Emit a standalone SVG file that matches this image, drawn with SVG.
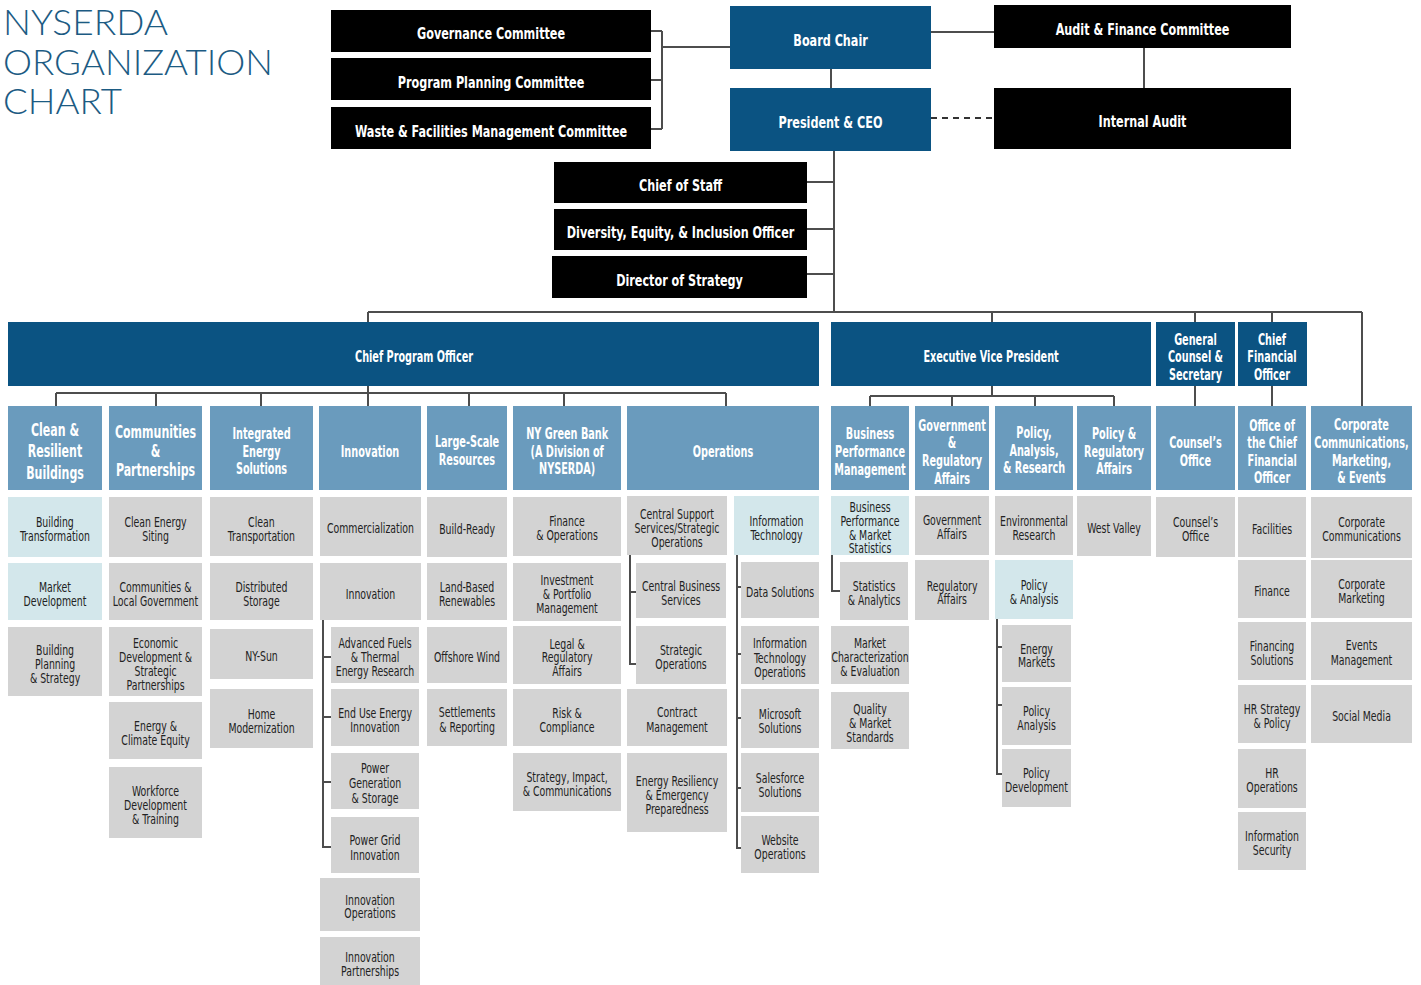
<svg xmlns="http://www.w3.org/2000/svg" width="1421" height="985" viewBox="0 0 1421 985">
<style>
.blk{fill:#000}
.dk{fill:#0b5382}
.md{fill:#6a9bbd}
.gy{fill:#d3d3d3}
.lb{fill:#d3e7eb}
.c{stroke:#4d4d4d;stroke-width:2;fill:none}
.dash{stroke:#333;stroke-width:2;fill:none;stroke-dasharray:6 5}
text{font-family:"Liberation Sans Narrow","DejaVu Sans Condensed","Liberation Sans",sans-serif;text-anchor:middle;transform-box:fill-box;transform-origin:center}
.tb{fill:#fff;font-weight:bold;font-size:16px;transform:scaleX(.78)}
.t2{fill:#fff;font-weight:bold;font-size:15px;transform:scaleX(.72)}
.t2l{fill:#fff;font-weight:bold;font-size:17px;transform:scaleX(.72)}
.t3{fill:#222;font-size:13.5px;transform:scaleX(.77)}
.title{font-family:Lato,"Liberation Sans",sans-serif;font-weight:300;font-size:35px;fill:#1c5b83;text-anchor:start;transform:none}
</style>
<g id="title">
<text class="title"><tspan x="3" y="35" textLength="165" lengthAdjust="spacingAndGlyphs">NYSERDA</tspan><tspan x="3" y="75" textLength="270" lengthAdjust="spacingAndGlyphs">ORGANIZATION</tspan><tspan x="3" y="114" textLength="119" lengthAdjust="spacingAndGlyphs">CHART</tspan></text>
</g>
<g id="connectors">
<path class="c" d="M651,31H662M651,80H662M651,129H662M662,31V129M662,47H730"/>
<path class="c" d="M831,69V88M931,32H994M1144,48V88"/>
<path class="dash" d="M931,118H994"/>
<path class="c" d="M834,151V312M807,182H834M807,229H834M807,274H834"/>
<path class="c" d="M368,312H1362M368,312V322M992,312V322M1195,312V322M1272,312V322M1362,312V406"/>
<path class="c" d="M368,386V393M56,393H726M56,393V406M156,393V406M261,393V406M368,393V406M469,393V406M564,393V406M726,393V406"/>
<path class="c" d="M992,386V396M870,396H1114M870,396V406M952,396V406M1035,396V406M1114,396V406M1195,386V406M1272,386V406"/>
<path class="c" d="M323,620V847H331M323,657H331M323,717H331M323,782H331"/>
<path class="c" d="M630,555V664H636M630,592H636"/>
<path class="c" d="M737,555V848H741M737,587H741M737,654H741M737,718H741M737,788H741"/>
<path class="c" d="M832,555V591H840"/>
<path class="c" d="M997,619V774H1002M997,647H1002M997,705H1002"/>
</g>
<g id="n-gov"><rect class="blk" x="331" y="10" width="320" height="42"/><text class="tb" x="491" y="39">Governance Committee</text></g>
<g id="n-ppc"><rect class="blk" x="331" y="58" width="320" height="42"/><text class="tb" x="491" y="88">Program Planning Committee</text></g>
<g id="n-wfm"><rect class="blk" x="331" y="107" width="320" height="42"/><text class="tb" x="491" y="137">Waste &amp; Facilities Management Committee</text></g>
<g id="n-board"><rect class="dk" x="730" y="6" width="201" height="63"/><text class="tb" x="830.5" y="46">Board Chair</text></g>
<g id="n-ceo"><rect class="dk" x="730" y="88" width="201" height="63"/><text class="tb" x="830.5" y="128">President &amp; CEO</text></g>
<g id="n-afc"><rect class="blk" x="994" y="5" width="297" height="43"/><text class="tb" x="1142.5" y="35">Audit &amp; Finance Committee</text></g>
<g id="n-ia"><rect class="blk" x="994" y="88" width="297" height="61"/><text class="tb" x="1142.5" y="127">Internal Audit</text></g>
<g id="n-cos"><rect class="blk" x="554" y="162" width="253" height="41"/><text class="tb" x="680.5" y="191">Chief of Staff</text></g>
<g id="n-dei"><rect class="blk" x="554" y="209" width="253" height="41"/><text class="tb" x="680.5" y="238">Diversity, Equity, &amp; Inclusion Officer</text></g>
<g id="n-dos"><rect class="blk" x="552" y="256" width="255" height="42"/><text class="tb" x="679.5" y="286">Director of Strategy</text></g>
<g id="n-cpo"><rect class="dk" x="8" y="322" width="811" height="64"/><text class="t2" x="414" y="362">Chief Program Officer</text></g>
<g id="n-evp"><rect class="dk" x="831" y="322" width="320" height="64"/><text class="t2" x="991" y="362">Executive Vice President</text></g>
<g id="n-gcs"><rect class="dk" x="1156" y="322" width="79" height="64"/><text class="t2"><tspan x="1195.5" y="345">General</tspan><tspan x="1195.5" y="362">Counsel &amp;</tspan><tspan x="1195.5" y="380">Secretary</tspan></text></g>
<g id="n-cfo"><rect class="dk" x="1238" y="322" width="69" height="64"/><text class="t2"><tspan x="1272" y="345">Chief</tspan><tspan x="1272" y="362">Financial</tspan><tspan x="1272" y="380">Officer</tspan></text></g>
<g id="n-crb"><rect class="md" x="8" y="406" width="94" height="84"/><text class="t2l"><tspan x="55" y="436">Clean &amp;</tspan><tspan x="55" y="457">Resilient</tspan><tspan x="55" y="479">Buildings</tspan></text></g>
<g id="n-cp"><rect class="md" x="109" y="406" width="93" height="84"/><text class="t2l"><tspan x="155.5" y="438">Communities</tspan><tspan x="155.5" y="457">&amp;</tspan><tspan x="155.5" y="476">Partnerships</tspan></text></g>
<g id="n-ies"><rect class="md" x="210" y="406" width="103" height="84"/><text class="t2"><tspan x="261.5" y="439">Integrated</tspan><tspan x="261.5" y="457">Energy</tspan><tspan x="261.5" y="474">Solutions</tspan></text></g>
<g id="n-inn"><rect class="md" x="319" y="406" width="102" height="84"/><text class="t2" x="370" y="457">Innovation</text></g>
<g id="n-lsr"><rect class="md" x="427" y="406" width="80" height="84"/><text class="t2"><tspan x="467" y="447">Large-Scale</tspan><tspan x="467" y="465">Resources</tspan></text></g>
<g id="n-nygb"><rect class="md" x="513" y="406" width="108" height="84"/><text class="t2"><tspan x="567" y="439">NY Green Bank</tspan><tspan x="567" y="457">(A Division of</tspan><tspan x="567" y="474">NYSERDA)</tspan></text></g>
<g id="n-ops"><rect class="md" x="627" y="406" width="192" height="84"/><text class="t2" x="723" y="457">Operations</text></g>
<g id="n-bpm"><rect class="md" x="831" y="406" width="78" height="84"/><text class="t2"><tspan x="870" y="439">Business</tspan><tspan x="870" y="457">Performance</tspan><tspan x="870" y="475">Management</tspan></text></g>
<g id="n-gra"><rect class="md" x="915" y="406" width="74" height="84"/><text class="t2"><tspan x="952" y="431">Government</tspan><tspan x="952" y="448">&amp;</tspan><tspan x="952" y="466">Regulatory</tspan><tspan x="952" y="484">Affairs</tspan></text></g>
<g id="n-par"><rect class="md" x="995" y="406" width="78" height="84"/><text class="t2"><tspan x="1034" y="438">Policy,</tspan><tspan x="1034" y="456">Analysis,</tspan><tspan x="1034" y="473">&amp; Research</tspan></text></g>
<g id="n-pra"><rect class="md" x="1077" y="406" width="74" height="84"/><text class="t2"><tspan x="1114" y="439">Policy &amp;</tspan><tspan x="1114" y="457">Regulatory</tspan><tspan x="1114" y="474">Affairs</tspan></text></g>
<g id="n-cof"><rect class="md" x="1156" y="406" width="79" height="84"/><text class="t2"><tspan x="1195.5" y="448">Counsel’s</tspan><tspan x="1195.5" y="466">Office</tspan></text></g>
<g id="n-ocfo"><rect class="md" x="1238" y="406" width="68" height="84"/><text class="t2"><tspan x="1272" y="431">Office of</tspan><tspan x="1272" y="448">the Chief</tspan><tspan x="1272" y="466">Financial</tspan><tspan x="1272" y="483">Officer</tspan></text></g>
<g id="n-ccme"><rect class="md" x="1311" y="406" width="101" height="84"/><text class="t2"><tspan x="1361.5" y="430">Corporate</tspan><tspan x="1361.5" y="448">Communications,</tspan><tspan x="1361.5" y="466">Marketing,</tspan><tspan x="1361.5" y="483">&amp; Events</tspan></text></g>
<g id="n-bt"><rect class="lb" x="8" y="497" width="94" height="60"/><text class="t3"><tspan x="55" y="527">Building</tspan><tspan x="55" y="541">Transformation</tspan></text></g>
<g id="n-mdev"><rect class="lb" x="8" y="563" width="94" height="57"/><text class="t3"><tspan x="55" y="592">Market</tspan><tspan x="55" y="606">Development</tspan></text></g>
<g id="n-bps"><rect class="gy" x="8" y="627" width="94" height="69"/><text class="t3"><tspan x="55" y="655">Building</tspan><tspan x="55" y="669">Planning</tspan><tspan x="55" y="683">&amp; Strategy</tspan></text></g>
<g id="n-ces"><rect class="gy" x="109" y="497" width="93" height="60"/><text class="t3"><tspan x="155.5" y="527">Clean Energy</tspan><tspan x="155.5" y="541">Siting</tspan></text></g>
<g id="n-clg"><rect class="gy" x="109" y="563" width="93" height="57"/><text class="t3"><tspan x="155.5" y="592">Communities &amp;</tspan><tspan x="155.5" y="606">Local Government</tspan></text></g>
<g id="n-edsp"><rect class="gy" x="109" y="627" width="93" height="69"/><text class="t3"><tspan x="155.5" y="648">Economic</tspan><tspan x="155.5" y="662">Development &amp;</tspan><tspan x="155.5" y="676">Strategic</tspan><tspan x="155.5" y="690">Partnerships</tspan></text></g>
<g id="n-ece"><rect class="gy" x="109" y="702" width="93" height="57"/><text class="t3"><tspan x="155.5" y="731">Energy &amp;</tspan><tspan x="155.5" y="745">Climate Equity</tspan></text></g>
<g id="n-wdt"><rect class="gy" x="109" y="767" width="93" height="71"/><text class="t3"><tspan x="155.5" y="796">Workforce</tspan><tspan x="155.5" y="810">Development</tspan><tspan x="155.5" y="824">&amp; Training</tspan></text></g>
<g id="n-ct"><rect class="gy" x="210" y="497" width="103" height="59"/><text class="t3"><tspan x="261.5" y="527">Clean</tspan><tspan x="261.5" y="541">Transportation</tspan></text></g>
<g id="n-dst"><rect class="gy" x="210" y="563" width="103" height="57"/><text class="t3"><tspan x="261.5" y="592">Distributed</tspan><tspan x="261.5" y="606">Storage</tspan></text></g>
<g id="n-nysun"><rect class="gy" x="210" y="629" width="103" height="50"/><text class="t3" x="261.5" y="661">NY-Sun</text></g>
<g id="n-hm"><rect class="gy" x="210" y="689" width="103" height="59"/><text class="t3"><tspan x="261.5" y="719">Home</tspan><tspan x="261.5" y="733">Modernization</tspan></text></g>
<g id="n-comm"><rect class="gy" x="320" y="497" width="101" height="59"/><text class="t3" x="370.5" y="533">Commercialization</text></g>
<g id="n-innov"><rect class="gy" x="320" y="563" width="101" height="57"/><text class="t3" x="370.5" y="599">Innovation</text></g>
<g id="n-aft"><rect class="gy" x="331" y="627" width="88" height="56"/><text class="t3"><tspan x="375" y="648">Advanced Fuels</tspan><tspan x="375" y="662">&amp; Thermal</tspan><tspan x="375" y="676">Energy Research</tspan></text></g>
<g id="n-euei"><rect class="gy" x="331" y="689" width="88" height="57"/><text class="t3"><tspan x="375" y="718">End Use Energy</tspan><tspan x="375" y="732">Innovation</tspan></text></g>
<g id="n-pgs"><rect class="gy" x="331" y="753" width="88" height="56"/><text class="t3"><tspan x="375" y="773">Power</tspan><tspan x="375" y="788">Generation</tspan><tspan x="375" y="803">&amp; Storage</tspan></text></g>
<g id="n-pgi"><rect class="gy" x="331" y="817" width="88" height="56"/><text class="t3"><tspan x="375" y="845">Power Grid</tspan><tspan x="375" y="860">Innovation</tspan></text></g>
<g id="n-io"><rect class="gy" x="320" y="878" width="100" height="53"/><text class="t3"><tspan x="370" y="905">Innovation</tspan><tspan x="370" y="918">Operations</tspan></text></g>
<g id="n-ip"><rect class="gy" x="320" y="937" width="100" height="48"/><text class="t3"><tspan x="370" y="962">Innovation</tspan><tspan x="370" y="976">Partnerships</tspan></text></g>
<g id="n-br"><rect class="gy" x="427" y="497" width="80" height="60"/><text class="t3" x="467" y="534">Build-Ready</text></g>
<g id="n-lbr"><rect class="gy" x="427" y="563" width="80" height="57"/><text class="t3"><tspan x="467" y="592">Land-Based</tspan><tspan x="467" y="606">Renewables</tspan></text></g>
<g id="n-ow"><rect class="gy" x="427" y="627" width="80" height="56"/><text class="t3" x="467" y="662">Offshore Wind</text></g>
<g id="n-sr"><rect class="gy" x="427" y="689" width="80" height="57"/><text class="t3"><tspan x="467" y="717">Settlements</tspan><tspan x="467" y="732">&amp; Reporting</tspan></text></g>
<g id="n-fo"><rect class="gy" x="513" y="497" width="108" height="59"/><text class="t3"><tspan x="567" y="526">Finance</tspan><tspan x="567" y="540">&amp; Operations</tspan></text></g>
<g id="n-ipm"><rect class="gy" x="513" y="563" width="108" height="58"/><text class="t3"><tspan x="567" y="585">Investment</tspan><tspan x="567" y="599">&amp; Portfolio</tspan><tspan x="567" y="613">Management</tspan></text></g>
<g id="n-lra"><rect class="gy" x="513" y="626" width="108" height="58"/><text class="t3"><tspan x="567" y="649">Legal &amp;</tspan><tspan x="567" y="662">Regulatory</tspan><tspan x="567" y="676">Affairs</tspan></text></g>
<g id="n-rc"><rect class="gy" x="513" y="689" width="108" height="57"/><text class="t3"><tspan x="567" y="718">Risk &amp;</tspan><tspan x="567" y="732">Compliance</tspan></text></g>
<g id="n-sic"><rect class="gy" x="513" y="753" width="108" height="58"/><text class="t3"><tspan x="567" y="782">Strategy, Impact,</tspan><tspan x="567" y="796">&amp; Communications</tspan></text></g>
<g id="n-css"><rect class="gy" x="627" y="496" width="100" height="59"/><text class="t3"><tspan x="677" y="519">Central Support</tspan><tspan x="677" y="533">Services/Strategic</tspan><tspan x="677" y="547">Operations</tspan></text></g>
<g id="n-cbs"><rect class="gy" x="636" y="563" width="90" height="55"/><text class="t3"><tspan x="681" y="591">Central Business</tspan><tspan x="681" y="605">Services</tspan></text></g>
<g id="n-so"><rect class="gy" x="636" y="626" width="90" height="58"/><text class="t3"><tspan x="681" y="655">Strategic</tspan><tspan x="681" y="669">Operations</tspan></text></g>
<g id="n-cm"><rect class="gy" x="627" y="689" width="100" height="57"/><text class="t3"><tspan x="677" y="717">Contract</tspan><tspan x="677" y="732">Management</tspan></text></g>
<g id="n-erep"><rect class="gy" x="627" y="753" width="100" height="79"/><text class="t3"><tspan x="677" y="786">Energy Resiliency</tspan><tspan x="677" y="800">&amp; Emergency</tspan><tspan x="677" y="814">Preparedness</tspan></text></g>
<g id="n-it"><rect class="lb" x="734" y="496" width="85" height="59"/><text class="t3"><tspan x="776.5" y="526">Information</tspan><tspan x="776.5" y="540">Technology</tspan></text></g>
<g id="n-dsol"><rect class="gy" x="741" y="562" width="78" height="56"/><text class="t3" x="780" y="597">Data Solutions</text></g>
<g id="n-ito"><rect class="gy" x="741" y="626" width="78" height="58"/><text class="t3"><tspan x="780" y="648">Information</tspan><tspan x="780" y="663">Technology</tspan><tspan x="780" y="677">Operations</tspan></text></g>
<g id="n-ms"><rect class="gy" x="741" y="689" width="78" height="59"/><text class="t3"><tspan x="780" y="719">Microsoft</tspan><tspan x="780" y="733">Solutions</tspan></text></g>
<g id="n-ss"><rect class="gy" x="741" y="753" width="78" height="59"/><text class="t3"><tspan x="780" y="783">Salesforce</tspan><tspan x="780" y="797">Solutions</tspan></text></g>
<g id="n-wo"><rect class="gy" x="741" y="816" width="78" height="57"/><text class="t3"><tspan x="780" y="845">Website</tspan><tspan x="780" y="859">Operations</tspan></text></g>
<g id="n-bpms"><rect class="lb" x="831" y="496" width="78" height="59"/><text class="t3"><tspan x="870" y="512">Business</tspan><tspan x="870" y="526">Performance</tspan><tspan x="870" y="540">&amp; Market</tspan><tspan x="870" y="553">Statistics</tspan></text></g>
<g id="n-sa"><rect class="gy" x="840" y="562" width="68" height="58"/><text class="t3"><tspan x="874" y="591">Statistics</tspan><tspan x="874" y="605">&amp; Analytics</tspan></text></g>
<g id="n-mce"><rect class="gy" x="831" y="626" width="78" height="58"/><text class="t3"><tspan x="870" y="648">Market</tspan><tspan x="870" y="662">Characterization</tspan><tspan x="870" y="676">&amp; Evaluation</tspan></text></g>
<g id="n-qms"><rect class="gy" x="831" y="692" width="78" height="57"/><text class="t3"><tspan x="870" y="714">Quality</tspan><tspan x="870" y="728">&amp; Market</tspan><tspan x="870" y="742">Standards</tspan></text></g>
<g id="n-ga"><rect class="gy" x="915" y="496" width="74" height="59"/><text class="t3"><tspan x="952" y="525">Government</tspan><tspan x="952" y="539">Affairs</tspan></text></g>
<g id="n-ra"><rect class="gy" x="915" y="560" width="74" height="60"/><text class="t3"><tspan x="952" y="591">Regulatory</tspan><tspan x="952" y="604">Affairs</tspan></text></g>
<g id="n-er"><rect class="gy" x="995" y="496" width="78" height="59"/><text class="t3"><tspan x="1034" y="526">Environmental</tspan><tspan x="1034" y="540">Research</tspan></text></g>
<g id="n-pa"><rect class="lb" x="995" y="560" width="78" height="59"/><text class="t3"><tspan x="1034" y="590">Policy</tspan><tspan x="1034" y="604">&amp; Analysis</tspan></text></g>
<g id="n-em"><rect class="gy" x="1002" y="625" width="69" height="57"/><text class="t3"><tspan x="1036.5" y="654">Energy</tspan><tspan x="1036.5" y="667">Markets</tspan></text></g>
<g id="n-pan"><rect class="gy" x="1002" y="687" width="69" height="58"/><text class="t3"><tspan x="1036.5" y="716">Policy</tspan><tspan x="1036.5" y="730">Analysis</tspan></text></g>
<g id="n-pd"><rect class="gy" x="1002" y="749" width="69" height="58"/><text class="t3"><tspan x="1036.5" y="778">Policy</tspan><tspan x="1036.5" y="792">Development</tspan></text></g>
<g id="n-wv"><rect class="gy" x="1077" y="496" width="74" height="60"/><text class="t3" x="1114" y="533">West Valley</text></g>
<g id="n-co3"><rect class="gy" x="1156" y="497" width="79" height="60"/><text class="t3"><tspan x="1195.5" y="527">Counsel’s</tspan><tspan x="1195.5" y="541">Office</tspan></text></g>
<g id="n-fac"><rect class="gy" x="1238" y="497" width="68" height="60"/><text class="t3" x="1272" y="534">Facilities</text></g>
<g id="n-fin"><rect class="gy" x="1238" y="560" width="68" height="58"/><text class="t3" x="1272" y="596">Finance</text></g>
<g id="n-fs"><rect class="gy" x="1238" y="622" width="68" height="58"/><text class="t3"><tspan x="1272" y="651">Financing</tspan><tspan x="1272" y="665">Solutions</tspan></text></g>
<g id="n-hrsp"><rect class="gy" x="1238" y="685" width="68" height="58"/><text class="t3"><tspan x="1272" y="714">HR Strategy</tspan><tspan x="1272" y="728">&amp; Policy</tspan></text></g>
<g id="n-hro"><rect class="gy" x="1238" y="749" width="68" height="59"/><text class="t3"><tspan x="1272" y="778">HR</tspan><tspan x="1272" y="792">Operations</tspan></text></g>
<g id="n-is"><rect class="gy" x="1238" y="812" width="68" height="58"/><text class="t3"><tspan x="1272" y="841">Information</tspan><tspan x="1272" y="855">Security</tspan></text></g>
<g id="n-cc"><rect class="gy" x="1311" y="497" width="101" height="61"/><text class="t3"><tspan x="1361.5" y="527">Corporate</tspan><tspan x="1361.5" y="541">Communications</tspan></text></g>
<g id="n-cmk"><rect class="gy" x="1311" y="560" width="101" height="58"/><text class="t3"><tspan x="1361.5" y="589">Corporate</tspan><tspan x="1361.5" y="603">Marketing</tspan></text></g>
<g id="n-evm"><rect class="gy" x="1311" y="622" width="101" height="58"/><text class="t3"><tspan x="1361.5" y="650">Events</tspan><tspan x="1361.5" y="665">Management</tspan></text></g>
<g id="n-sm"><rect class="gy" x="1311" y="685" width="101" height="58"/><text class="t3" x="1361.5" y="721">Social Media</text></g>
</svg>
